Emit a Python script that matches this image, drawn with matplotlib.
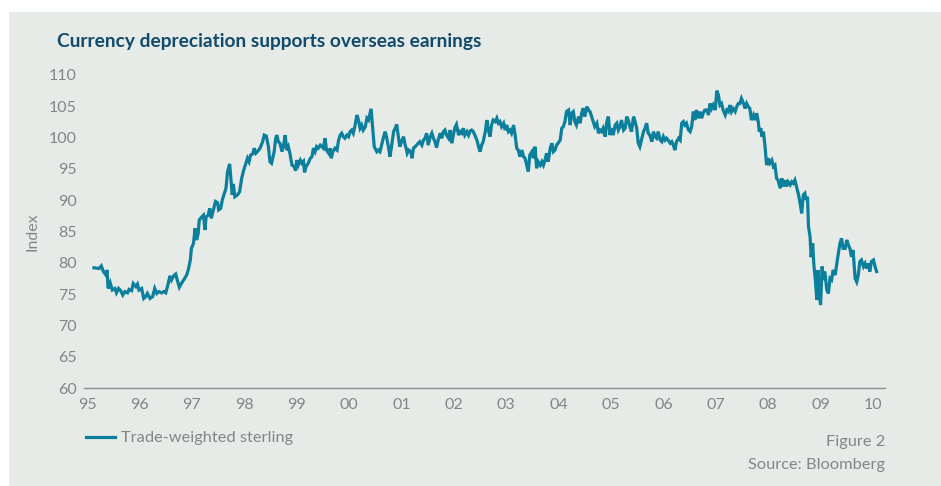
import matplotlib
matplotlib.use("Agg")
import matplotlib.pyplot as plt

# Trade-weighted sterling index, fractional year vs index level
years = [
    1995.13, 1995.23, 1995.27, 1995.31, 1995.36, 1995.38, 1995.40, 1995.44, 1995.48, 1995.53,
    1995.56, 1995.60, 1995.64, 1995.68, 1995.72, 1995.77, 1995.80, 1995.85, 1995.88, 1995.93,
    1995.96, 1995.99, 1996.04, 1996.08, 1996.12, 1996.15, 1996.20, 1996.25, 1996.29, 1996.33,
    1996.37, 1996.42, 1996.46, 1996.50, 1996.53, 1996.58, 1996.61, 1996.65, 1996.69, 1996.72,
    1996.76, 1996.80, 1996.85, 1996.90, 1996.93, 1996.97, 1996.99, 1997.03, 1997.06, 1997.09,
    1997.12, 1997.14, 1997.18, 1997.22, 1997.25, 1997.27, 1997.31, 1997.34, 1997.37, 1997.41,
    1997.45, 1997.49, 1997.51, 1997.55, 1997.58, 1997.61, 1997.65, 1997.68, 1997.72, 1997.74,
    1997.77, 1997.79, 1997.82, 1997.87, 1997.91, 1997.95, 1997.98, 1998.02, 1998.06, 1998.09,
    1998.12, 1998.16, 1998.19, 1998.22, 1998.25, 1998.30, 1998.35, 1998.38, 1998.42, 1998.46,
    1998.49, 1998.52, 1998.57, 1998.60, 1998.62, 1998.65,
    1998.68, 1998.72, 1998.75, 1998.78, 1998.81, 1998.84, 1998.87, 1998.91, 1998.95, 1998.98,
    1999.00, 1999.03, 1999.07, 1999.10, 1999.13, 1999.15, 1999.18, 1999.22, 1999.26, 1999.29,
    1999.32, 1999.35, 1999.38, 1999.41, 1999.45, 1999.48, 1999.51, 1999.54, 1999.57, 1999.61,
    1999.64, 1999.66, 1999.69, 1999.73, 1999.77, 1999.80, 1999.83, 1999.86, 1999.89, 1999.92,
    1999.96, 1999.99, 2000.02, 2000.05, 2000.08, 2000.11, 2000.15, 2000.18, 2000.21, 2000.24,
    2000.27, 2000.31, 2000.34, 2000.37, 2000.40, 2000.42, 2000.45, 2000.48, 2000.53, 2000.56,
    2000.59, 2000.62, 2000.66, 2000.69, 2000.72, 2000.75, 2000.78, 2000.81, 2000.85, 2000.88,
    2000.91, 2000.94, 2000.97, 2001.00, 2001.04, 2001.07, 2001.09, 2001.11, 2001.14, 2001.18,
    2001.20, 2001.23, 2001.26, 2001.29, 2001.32, 2001.35, 2001.39, 2001.42, 2001.45, 2001.48,
    2001.51, 2001.55, 2001.58, 2001.61, 2001.64, 2001.67, 2001.70, 2001.74, 2001.77, 2001.80,
    2001.83, 2001.86, 2001.90, 2001.93, 2001.96, 2001.99, 2002.02, 2002.05, 2002.09, 2002.12,
    2002.15, 2002.18, 2002.21, 2002.25, 2002.28, 2002.31, 2002.34, 2002.37, 2002.40, 2002.44,
    2002.47,
    2002.50, 2002.53, 2002.56, 2002.60, 2002.63, 2002.66, 2002.69, 2002.72, 2002.75, 2002.79,
    2002.82, 2002.85, 2002.88, 2002.91, 2002.95, 2002.98, 2003.01, 2003.04, 2003.07, 2003.10,
    2003.14, 2003.17, 2003.20, 2003.23, 2003.26, 2003.30, 2003.33, 2003.36, 2003.39, 2003.42,
    2003.45, 2003.49, 2003.52, 2003.55, 2003.58, 2003.61, 2003.65, 2003.68, 2003.71, 2003.74,
    2003.77, 2003.80, 2003.84, 2003.87, 2003.90, 2003.93, 2003.96, 2003.99, 2004.03, 2004.06,
    2004.09, 2004.12, 2004.15, 2004.19, 2004.22, 2004.25, 2004.28, 2004.31, 2004.34, 2004.38,
    2004.41, 2004.44, 2004.47, 2004.50, 2004.54, 2004.57, 2004.60, 2004.63, 2004.66, 2004.69,
    2004.73, 2004.76, 2004.79, 2004.82, 2004.85, 2004.89, 2004.92, 2004.95, 2004.98, 2005.01,
    2005.04, 2005.08, 2005.11, 2005.14, 2005.17, 2005.20, 2005.24, 2005.27, 2005.30, 2005.33,
    2005.36, 2005.39, 2005.43, 2005.46, 2005.49, 2005.52, 2005.55, 2005.59, 2005.62, 2005.65,
    2005.68, 2005.71, 2005.74, 2005.78, 2005.81, 2005.84, 2005.87, 2005.90, 2005.94, 2005.97,
    2006.00, 2006.03, 2006.06, 2006.09, 2006.13, 2006.16, 2006.19, 2006.22, 2006.25, 2006.29,
    2006.32, 2006.35, 2006.38, 2006.41, 2006.44, 2006.48, 2006.51, 2006.54, 2006.57, 2006.60,
    2006.63, 2006.67, 2006.70, 2006.73, 2006.76, 2006.79, 2006.83, 2006.86, 2006.89, 2006.92,
    2006.95, 2006.99, 2007.02, 2007.05, 2007.08, 2007.11, 2007.14, 2007.18, 2007.21, 2007.24,
    2007.27, 2007.30, 2007.33, 2007.37, 2007.40, 2007.43, 2007.46, 2007.49, 2007.53, 2007.56,
    2007.59, 2007.62, 2007.65, 2007.68, 2007.72, 2007.75, 2007.78, 2007.81, 2007.83, 2007.86,
    2007.88, 2007.91, 2007.94, 2007.97, 2008.00, 2008.03, 2008.07, 2008.10, 2008.13, 2008.16,
    2008.19, 2008.23, 2008.26, 2008.29, 2008.32, 2008.35, 2008.38, 2008.42, 2008.45, 2008.48,
    2008.51, 2008.54, 2008.58, 2008.61, 2008.64, 2008.67, 2008.70, 2008.72, 2008.75, 2008.77,
    2008.80, 2008.82, 2008.85, 2008.87, 2008.90, 2008.93, 2008.95, 2008.98, 2009.00, 2009.03,
    2009.05, 2009.08, 2009.12, 2009.15, 2009.18, 2009.21, 2009.24, 2009.28, 2009.31, 2009.34,
    2009.37, 2009.40, 2009.43, 2009.47, 2009.50, 2009.53, 2009.56, 2009.59, 2009.62, 2009.66,
    2009.69, 2009.72, 2009.75, 2009.78, 2009.82, 2009.85, 2009.88, 2009.91, 2009.94, 2009.97,
    2010.01, 2010.04, 2010.07,
]
index = [
    79.2, 79.1, 79.5, 78.6, 78.05, 78.85, 75.9, 76.8, 75.65, 75.9,
    75.2, 75.9, 75.55, 74.85, 75.4, 75.2, 75.75, 75.55, 76.7, 76.2,
    76.6, 75.65, 75.9, 74.3, 74.6, 75.1, 74.3, 74.6, 75.9, 75.1,
    75.4, 75.2, 75.4, 75.2, 76.1, 77.9, 77.25, 77.9, 78.2, 77.25,
    76.1, 76.7, 77.35, 78.05, 78.85, 80.45, 82.3, 83.1, 85.5, 83.65,
    84.7, 86.85, 87.25, 87.6, 85.25, 87.35, 87.6, 88.7, 87.1, 88.45,
    89.8, 89.6, 88.45, 88.7, 90.05, 90.85, 91.9, 94.55, 95.8, 93.75,
    90.85, 92.6, 90.55, 90.85, 91.35, 93.5, 94.55, 95.6, 96.7, 96.15,
    97.2, 97.4, 98.3, 97.5, 97.75, 98.3, 99.35, 100.4, 100.25, 98.55,
    96.15, 95.9, 97.75, 99.9, 100.4, 99.35,
    99.1, 97.76, 98.8, 100.4, 98.0, 98.55, 97.5, 95.6, 95.4, 94.7,
    96.4, 95.6, 96.4, 95.9, 96.2, 94.45, 95.4, 95.9, 96.7, 96.95,
    98.3, 97.75, 98.55, 98.3, 98.8, 98.55, 98.3, 99.9, 98.0, 97.5,
    98.3, 96.7, 97.75, 98.3, 98.0, 99.6, 100.4, 100.7, 100.15, 99.9,
    100.4, 100.15, 100.95, 101.2, 100.7, 101.75, 103.6, 102.8, 101.5, 102.0,
    101.2, 101.75, 103.1, 102.8, 103.9, 104.6, 101.5, 98.55, 97.75, 98.0,
    97.75, 98.8, 100.15, 100.95, 99.9, 98.55, 96.95, 98.55, 100.95, 101.5,
    102.1, 100.15, 98.55, 99.35, 100.15, 98.8, 98.3, 97.5, 98.0, 97.75,
    96.7, 98.3, 98.55, 98.8, 99.1, 99.35, 98.8, 99.6, 99.9, 100.7,
    98.8, 100.15, 100.7, 99.9, 99.35, 98.4, 99.6, 100.7, 99.9, 100.95,
    101.2, 100.4, 99.9, 101.2, 99.1, 100.4, 101.6, 102.1, 100.4, 100.95,
    100.7, 101.5, 100.4, 100.95, 100.4, 101.05, 101.2, 100.95, 100.4, 99.6,
    98.6,
    97.75, 98.8, 99.35, 100.95, 102.8, 101.2, 100.15, 102.0, 102.8, 102.55,
    103.1, 102.3, 102.55, 101.75, 102.3, 101.2, 102.0, 100.95, 101.2, 100.7,
    102.0, 100.4, 98.3, 98.0, 96.95, 98.0, 96.95, 96.7, 95.6, 94.55,
    97.2, 97.75, 96.7, 98.55, 95.1, 96.15, 95.6, 96.15, 95.6, 96.4,
    97.5, 96.15, 98.3, 99.1, 97.75, 98.0, 98.8, 99.1, 99.6, 101.5,
    101.75, 102.55, 104.15, 104.4, 102.0, 103.9, 104.15, 102.55, 102.0, 103.35,
    102.3, 103.9, 104.7, 103.35, 104.95, 104.4, 104.15, 103.35, 102.55, 101.75,
    102.3, 100.7, 101.2, 100.95, 101.5, 100.15, 102.55, 103.35, 100.4, 101.5,
    100.4, 102.0, 102.3, 101.2, 101.75, 102.8, 101.2, 101.5, 103.35, 102.8,
    101.75, 100.95, 103.35, 102.55, 101.5, 99.1, 98.55, 99.9, 100.95, 101.5,
    102.3, 100.7, 100.4, 99.35, 100.95, 100.15, 99.9, 100.95, 99.6, 99.35,
    100.15, 99.6, 99.9, 99.6, 99.1, 99.35, 98.8, 98.0, 99.35, 99.9,
    99.6, 102.3, 102.55, 102.0, 102.3, 101.2, 100.95, 101.75, 104.15, 102.8,
    104.4, 103.1, 104.15, 103.1, 103.9, 104.4, 104.4, 103.6, 105.45, 104.65,
    105.2, 104.4, 107.5, 106.8, 105.2, 105.45, 104.4, 103.6, 104.4, 104.15,
    105.2, 104.15, 104.65, 104.15, 104.95, 105.45, 105.45, 106.25, 105.45, 104.65,
    105.45, 104.95, 104.65, 102.8, 103.6, 102.8, 103.9, 102.55, 100.95, 101.5,
    100.15, 100.95, 98.55, 95.6, 96.7, 95.9, 96.4, 95.35, 95.6, 93.5,
    93.2, 91.9, 93.5, 92.2, 93.2, 92.2, 92.95, 92.45, 92.95, 92.7,
    93.2, 92.2, 90.85, 89.5, 87.9, 90.85, 91.1, 90.05, 90.55, 85.75,
    84.15, 80.9, 83.1, 79.9, 77.25, 74.05, 78.85, 74.6, 73.25, 79.4,
    77.25, 78.6, 75.65, 75.1, 77.5, 77.25, 78.85, 78.05, 79.9, 81.5,
    83.1, 83.9, 82.3, 82.3, 83.65, 82.85, 82.3, 80.95, 82.05, 77.5,
    76.95, 78.05, 80.2, 80.45, 79.4, 79.9, 79.1, 79.9, 78.6, 80.2,
    80.45, 79.4, 78.6,
]

year_ticks = list(range(1995, 2011))
year_labels = ["95", "96", "97", "98", "99", "00", "01", "02",
               "03", "04", "05", "06", "07", "08", "09", "10"]
index_ticks = [60, 65, 70, 75, 80, 85, 90, 95, 100, 105, 110]

bg = "#e6ebe8"
line_col = "#0b7f9c"
grey = "#858585"

plt.rcParams["font.family"] = ["Lato", "DejaVu Sans"]

fig = plt.figure(figsize=(9.41, 4.86), dpi=100)
fig.patch.set_facecolor("white")
# grey panel behind everything, with a thin white margin top/left
fig.patches.append(plt.Rectangle((9 / 941, 0), 1, 1 - 12 / 486,
                                 transform=fig.transFigure, facecolor=bg,
                                 edgecolor="none", zorder=-10))

ax = fig.add_axes([84 / 941, 98 / 486, 801 / 941, 313 / 486])
ax.set_facecolor(bg)
ax.patch.set_alpha(0)

ln, = ax.plot(years, index, color=line_col, lw=2.3, solid_joinstyle="miter")

ax.set_xlim(1994.94, 2010.23)
ax.set_ylim(60, 110)
ax.set_xticks(year_ticks)
ax.set_xticklabels(year_labels)
ax.set_yticks(index_ticks)
ax.tick_params(axis="both", length=0, colors=grey, labelsize=11.5)
ax.tick_params(axis="x", pad=7)
ax.tick_params(axis="y", pad=5)
for s in ["top", "right", "left"]:
    ax.spines[s].set_visible(False)
ax.spines["bottom"].set_color("#8c8c8c")
ax.spines["bottom"].set_linewidth(1.0)

ax.set_ylabel("Index", color=grey, fontsize=11.5, labelpad=7)

fig.text(57 / 941, 1 - 42 / 486, "Currency depreciation supports overseas earnings",
         fontsize=13.8, fontweight="bold", color="#114a6c", va="center", ha="left")

ax.legend([ln], ["Trade-weighted sterling"], loc="center left",
          bbox_to_anchor=(86 / 941, 1 - 438 / 486), bbox_transform=fig.transFigure,
          frameon=False, handlelength=1.75, handletextpad=0.4,
          fontsize=11.8, labelcolor=grey, borderaxespad=0, borderpad=0)

fig.text(885 / 941, 1 - 442 / 486, "Figure 2", fontsize=11.8, color=grey,
         ha="right", va="center")
fig.text(885 / 941, 1 - 465 / 486, "Source: Bloomberg", fontsize=11.8, color=grey,
         ha="right", va="center")

fig.savefig("out.png", dpi=100, facecolor=fig.get_facecolor())
